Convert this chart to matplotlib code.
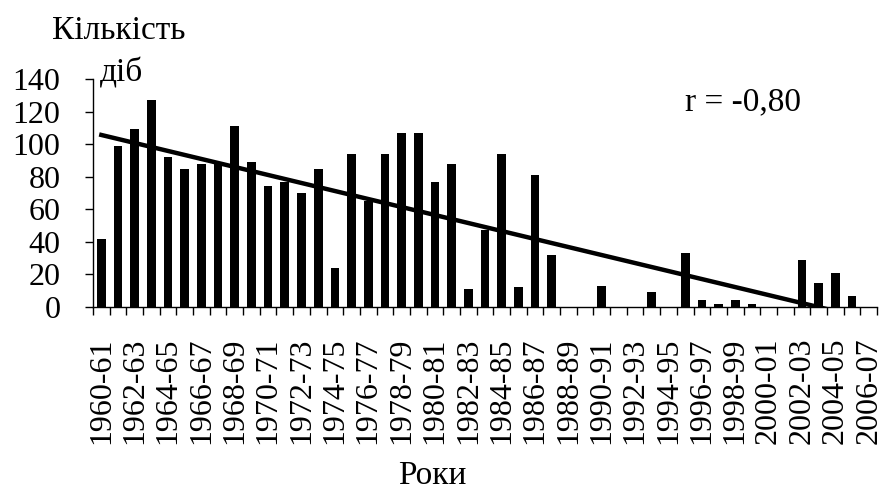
import numpy as np
import matplotlib
matplotlib.use('Agg')
import matplotlib.pyplot as plt
from matplotlib.ticker import FixedLocator

plt.rcParams['font.family'] = ['Liberation Serif', 'DejaVu Serif']

# сезони 1960-61 ... 2006-07
seasons = [f"{y}-{str(y + 1)[-2:]}" for y in range(1960, 2007)]
days = [42, 99, 109, 127, 92, 85, 88, 88, 111, 89,
        74, 77, 70, 85, 24, 94, 65, 94, 107, 107,
        77, 88, 11, 47, 94, 12, 81, 32, 0, 0,
        13, 0, 0, 9, 0, 33, 4, 2, 4, 2,
        0, 0, 29, 15, 21, 7, 0]
r_label = "r = -0,80"

FS = 23      # підписи осей
FS_TXT = 24  # написи

fig = plt.figure(figsize=(8.84, 4.91), dpi=100)
ax = fig.add_axes([93 / 884, 1 - 307 / 491, (877 - 93) / 884, (307 - 79) / 491])

x = np.arange(len(seasons))
ax.bar(x, days, width=0.52, color='black', zorder=2)

# лінійний тренд
k, b = np.polyfit(x, days, 1)
xt = np.array([0.0, len(seasons) - 1])
ax.plot(xt, k * xt + b, color='black', linewidth=3.2, zorder=3)

ax.set_xlim(-0.5, len(seasons) - 0.5)
ax.set_ylim(0, 140)
ax.set_yticks(range(0, 141, 20))

ax.set_xticks(x[::2])
ax.set_xticklabels(seasons[::2], rotation=90, fontsize=FS)
ax.xaxis.set_minor_locator(FixedLocator(np.arange(-0.5, len(seasons), 1)))
ax.tick_params(axis='x', which='major', length=0, pad=22)
ax.tick_params(axis='x', which='minor', length=5.5, width=1, direction='out')
ax.tick_params(axis='y', length=5.5, width=1, pad=18, labelsize=FS)

for s in ['top', 'right']:
    ax.spines[s].set_visible(False)
for s in ['left', 'bottom']:
    ax.spines[s].set_linewidth(1)

fig.text(52 / 884, 1 - 39 / 491, "Кількість", fontsize=FS_TXT, va='baseline')
fig.text(100 / 884, 1 - 82 / 491, "діб", fontsize=FS_TXT, va='baseline')
fig.text(685 / 884, 1 - 110 / 491, r_label, fontsize=FS_TXT, va='baseline')
fig.text(398 / 884, 1 - 484 / 491, "Роки", fontsize=FS_TXT, va='baseline')

fig.savefig('out.png', dpi=100)
